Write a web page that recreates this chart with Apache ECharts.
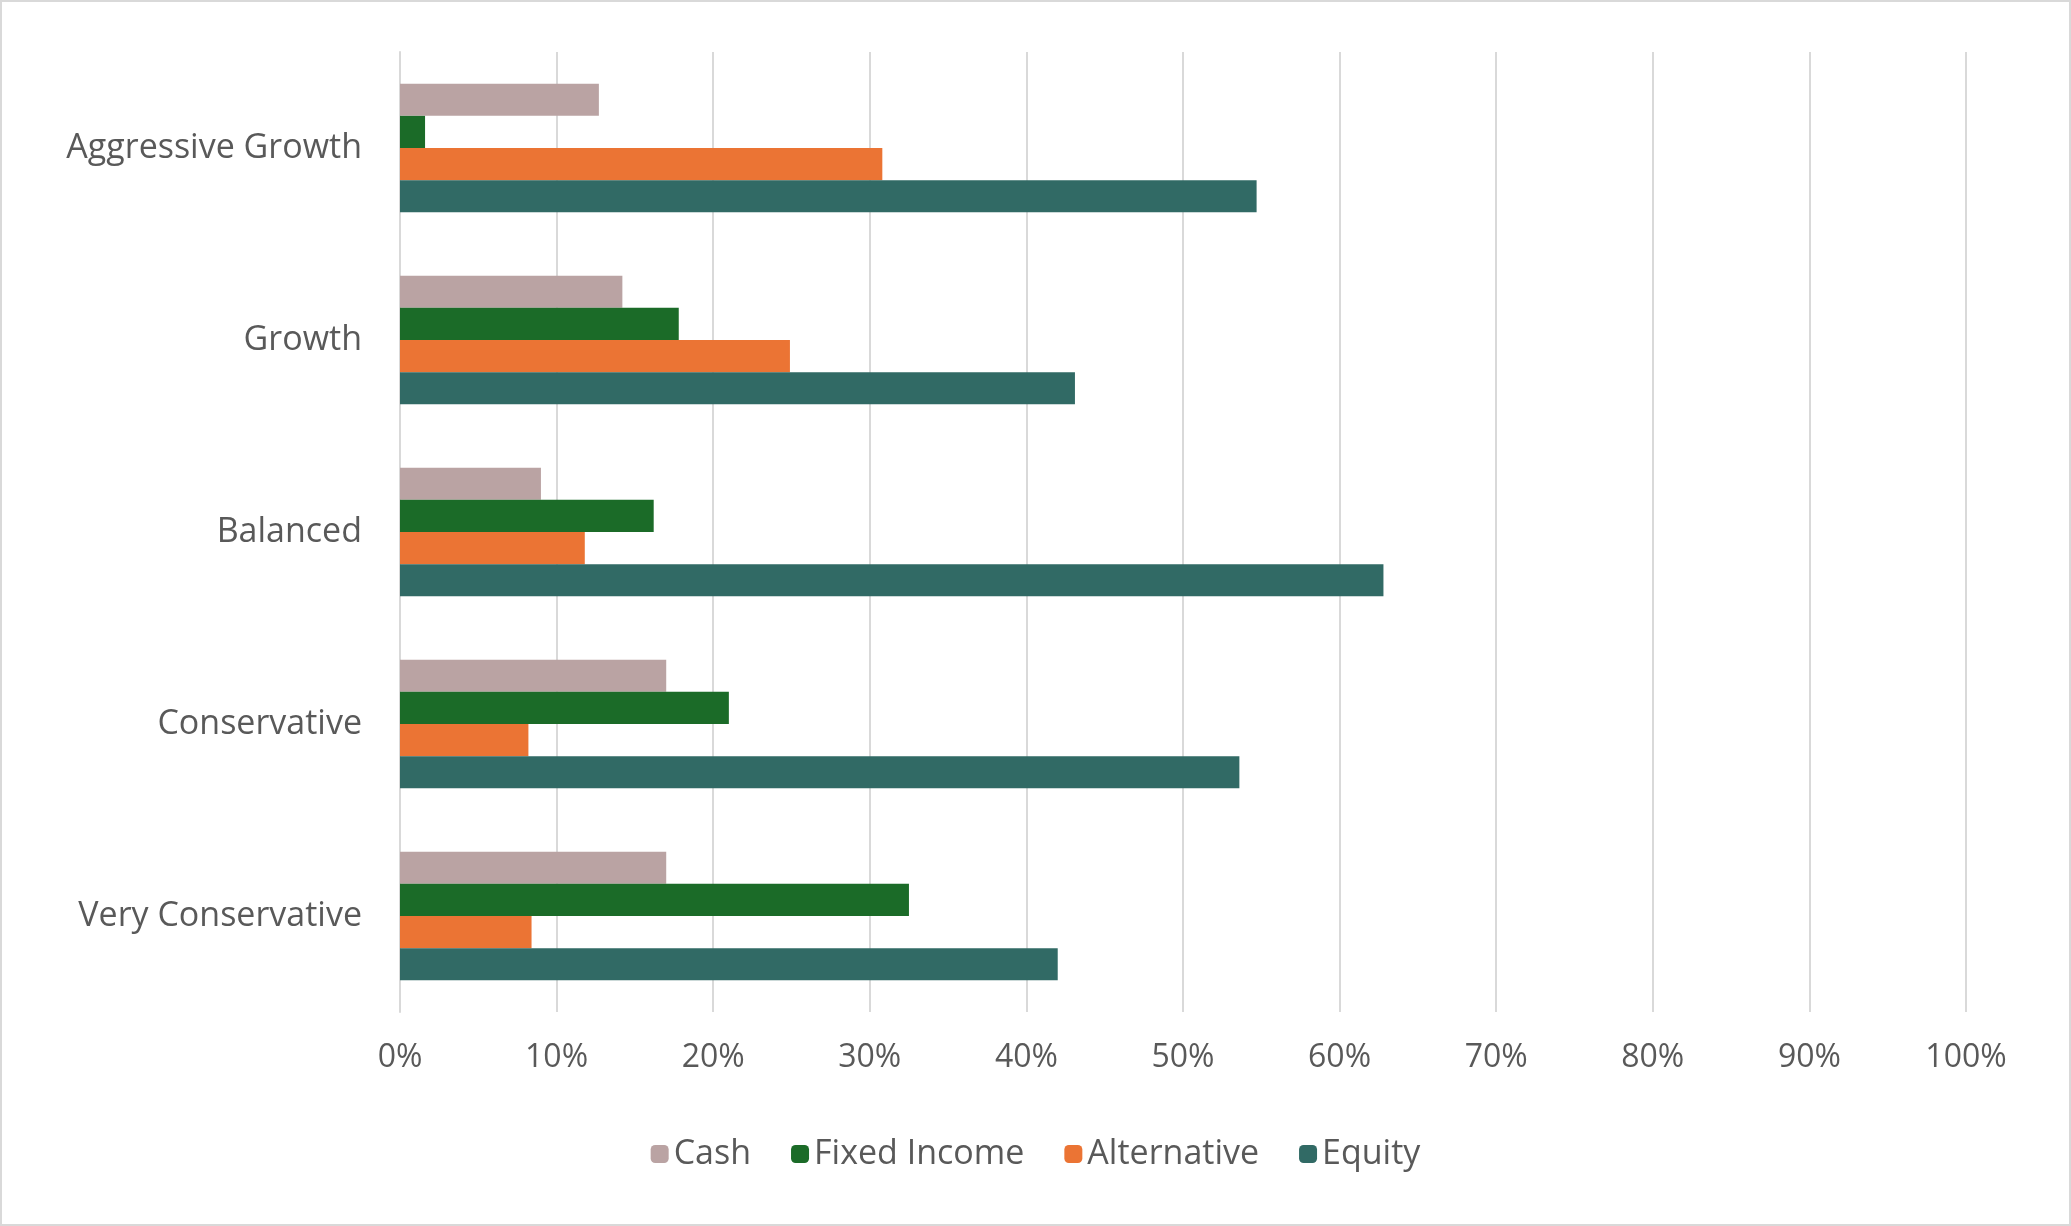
<!DOCTYPE html>
<html>
<head>
<meta charset="utf-8">
<title>Allocation</title>
<script src="https://cdn.jsdelivr.net/npm/echarts@6/dist/echarts.min.js"></script>
<style>
  html, body { margin: 0; padding: 0; background: #fff; }
  #chart { width: 2071px; height: 1226px; box-sizing: border-box; border: 2px solid #d9d9d9; }
</style>
</head>
<body>
<div id="chart"></div>
<script>
// 数据
var categories = ['Aggressive Growth', 'Growth', 'Balanced', 'Conservative', 'Very Conservative'];
var cash = [12.7, 14.2, 9.0, 17.0, 17.0];
var fixedIncome = [1.6, 17.8, 16.2, 21.0, 32.5];
var alternative = [30.8, 24.9, 11.8, 8.2, 8.4];
var equity = [54.7, 43.1, 62.8, 53.6, 42.0];

var chart = echarts.init(document.getElementById('chart'));
var font = 'Open Sans';
function bar(name, data, color) {
    return { name: name, type: 'bar', data: data, itemStyle: { color: color }, barGap: '0%', barCategoryGap: '33%' };
}
chart.setOption({
    textStyle: { fontFamily: font },
    grid: { left: 398, right: 103, top: 50, bottom: 212, containLabel: false },
    legend: {
        bottom: 48, left: 'center', itemWidth: 18, itemHeight: 18, itemGap: 40,
        textStyle: { fontSize: 34, color: '#595959', fontFamily: font },
        data: ['Cash', 'Fixed Income', 'Alternative', 'Equity']
    },
    xAxis: {
        type: 'value', min: 0, max: 100, interval: 10,
        axisLabel: { formatter: '{value}%', fontSize: 32, color: '#595959', margin: 30 },
        splitLine: { lineStyle: { color: '#d9d9d9', width: 2 } },
        axisLine: { show: false }, axisTick: { show: false }
    },
    yAxis: {
        type: 'category', data: categories, inverse: true,
        axisLabel: { fontSize: 34, color: '#595959', margin: 38 },
        axisLine: { show: true, lineStyle: { color: '#d9d9d9', width: 2 } },
        axisTick: { show: false }
    },
    series: [
        bar('Cash', cash, '#baa3a3'),
        bar('Fixed Income', fixedIncome, '#1b6b28'),
        bar('Alternative', alternative, '#eb7434'),
        bar('Equity', equity, '#316a65')
    ]
});
</script>
</body>
</html>
